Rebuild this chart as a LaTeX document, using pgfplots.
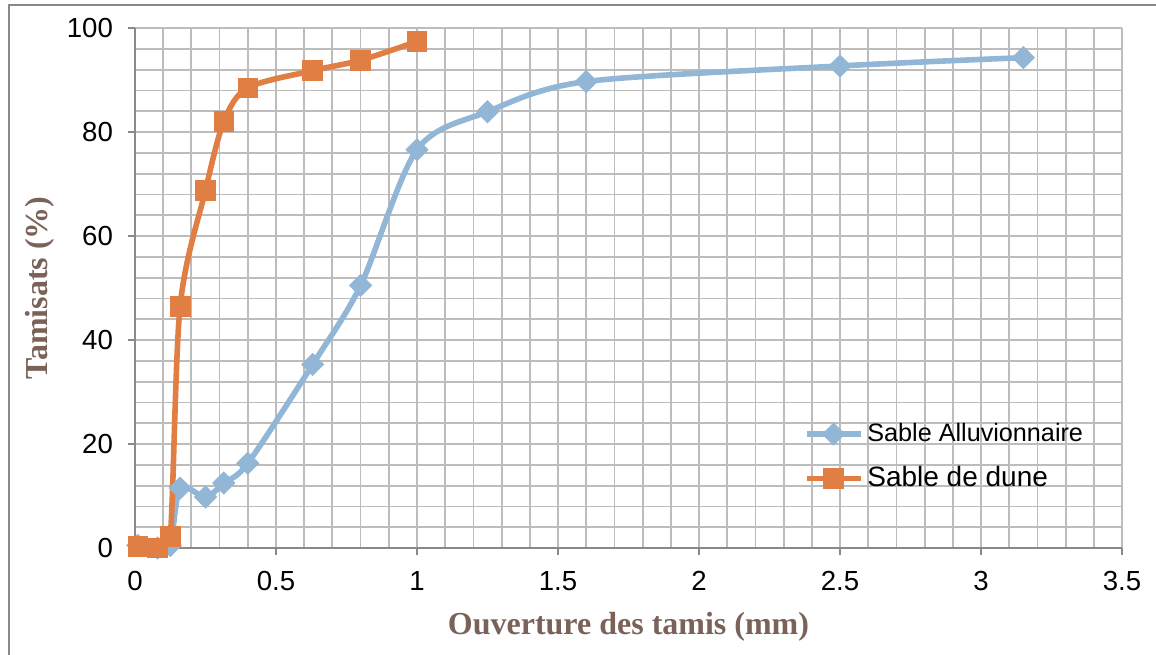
\documentclass[border=0pt]{standalone}
\usepackage{fontspec}
\setmainfont{Liberation Sans}
\newfontfamily\tnr{Liberation Serif}
\usepackage{pgfplots}
\pgfplotsset{compat=1.18}
\definecolor{alu}{RGB}{146,182,214}
\definecolor{dune}{RGB}{224,126,68}
\definecolor{lab}{RGB}{122,98,88}
\definecolor{gridc}{RGB}{188,188,188}
\definecolor{axc}{RGB}{137,137,137}
\begin{document}
\begin{tikzpicture}
\useasboundingbox (-67.5pt,-53pt) rectangle (510.5pt,274pt);
\draw[axc, line width=0.75pt] (-63pt,-60pt) -- (-63pt,271.5pt) -- (520pt,271.5pt);
\begin{axis}[
 scale only axis, width=493.5pt, height=260pt,
 xmin=0,xmax=3.5,ymin=0,ymax=100,
 xtick={0,0.5,...,3.5}, ytick={0,20,...,100},
 minor x tick num=4, minor y tick num=4,
 grid=both,
 major grid style={gridc, line width=0.9pt},
 minor grid style={gridc, line width=0.9pt},
 axis x line*=bottom, axis y line*=left,
 axis line style={axc, line width=0.9pt, -},
 tick align=outside, major tick length=3.5pt, minor tick length=0pt,
 tick style={axc, line width=0.9pt},
 /pgf/number format/assume math mode=true,
 ticklabel style={font=\fontsize{13.8}{16}\selectfont, text=black},
 xticklabel style={yshift=-4.5pt},
 yticklabel style={xshift=-4pt},
 xlabel={Ouverture des tamis (mm)},
 xlabel style={font=\tnr\bfseries\fontsize{16}{18}\selectfont, text=lab, at={(axis description cs:0.5,-0.152)}, anchor=center},
 ylabel={Tamisats (\%)},
 ylabel style={font=\tnr\bfseries\fontsize{16}{18}\selectfont, text=lab, at={(axis description cs:-0.0963,0.5)}, anchor=center},
 legend style={at={(axis cs:2.37,24.8)}, anchor=north west, draw=none, fill=none, row sep=7pt, inner sep=0pt},
 legend cell align=left,
 legend image code/.code={\draw[mark repeat=2,mark phase=2,#1] plot coordinates {(0pt,0pt) (13.5pt,0pt) (27pt,0pt)};},
]
\addplot[alu, line width=2.8pt, smooth, mark=square*, mark size=3.9pt, mark options={rotate=45, solid, line width=0.4pt}] coordinates {
(0.01,0.5) (0.08,0) (0.125,0.5) (0.16,11.5) (0.25,9.8) (0.315,12.5) (0.4,16.3) (0.63,35.3) (0.8,50.5) (1,76.6) (1.25,83.9) (1.6,89.7) (2.5,92.7) (3.15,94.3)};
\addlegendentry{\fontsize{12.6}{14}\selectfont Sable Alluvionnaire}
\addplot[dune, line width=2.8pt, smooth, mark=square*, mark size=4.9pt, mark options={solid, line width=0.4pt}] coordinates {
(0.01,0.3) (0.08,0) (0.125,2.2) (0.16,46.5) (0.25,68.8) (0.315,82) (0.4,88.5) (0.63,91.8) (0.8,93.8) (1,97.4)};
\addlegendentry{\fontsize{14}{16}\selectfont Sable de dune}
\end{axis}
\end{tikzpicture}
\end{document}
